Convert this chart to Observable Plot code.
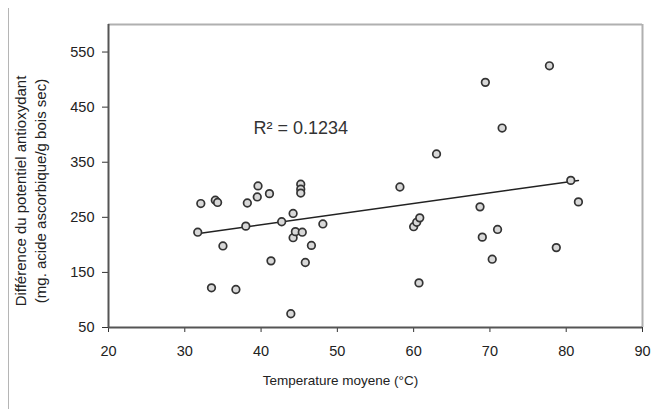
<!DOCTYPE html>
<html>
<head>
<meta charset="utf-8">
<script src="https://cdn.jsdelivr.net/npm/d3@7"></script>
<script src="https://cdn.jsdelivr.net/npm/@observablehq/plot@0.6"></script>
<style>
  body { margin: 0; background: #fff; }
  #wrap { position: relative; width: 670px; height: 409px; overflow: hidden; }
  #edge { position: absolute; left: 8px; top: 8px; bottom: 0; border-left: 1px solid #b5b5b5; }
</style>
</head>
<body>
<div id="wrap"><div id="edge"></div></div>
<script>
// Mean temperature (°C)
const temperature = [31.7, 32.1, 33.5, 34.0, 34.3, 35.0, 36.7, 38.0, 38.2, 39.5,
  39.6, 41.1, 41.3, 42.7, 43.9, 44.2, 44.2, 44.5, 45.4, 45.2,
  45.2, 45.2, 45.8, 46.6, 48.1, 58.2, 60.0, 60.4, 60.8, 60.7,
  63.0, 68.7, 69.0, 69.4, 70.3, 71.0, 71.6, 77.8, 78.7, 80.6, 81.6];
// Difference in antioxidant potential (mg ascorbic acid / g dry wood)
const antioxydant = [223, 275, 122, 281, 277, 198, 119, 234, 276, 287,
  307, 293, 171, 242, 75, 257, 213, 224, 223, 310,
  301, 294, 168, 199, 238, 305, 233, 241, 249, 131,
  365, 269, 214, 495, 174, 228, 412, 525, 195, 317, 278];
// Trend line as drawn in the chart (end points)
const trendX = [31.6, 81.6];
const trendY = [220, 317];
const xTicks = [20, 30, 40, 50, 60, 70, 80, 90];
const yTicks = [50, 150, 250, 350, 450, 550];
const r2Label = ["R² = 0.1234"];
const xLabel = ["Temperature moyene (°C)"];
const yLabel = ["Différence du potentiel antioxydant\n(mg. acide ascorbique/g bois sec)"];

const points = temperature.map((t, i) => ({t, v: antioxydant[i]}));
const trend = trendX.map((t, i) => ({t, v: trendY[i]}));

const chart = Plot.plot({
  width: 670,
  height: 409,
  marginLeft: 108,
  marginRight: 28,
  marginTop: 24,
  marginBottom: 82,
  style: {fontFamily: "'Liberation Sans', Arial, sans-serif", fontSize: "14px", color: "#222", background: "transparent"},
  x: {domain: [20, 90]},
  y: {domain: [50, 600]},
  marks: [
    Plot.ruleY([600], {stroke: "#b0b0b0", strokeWidth: 2}),
    Plot.ruleX([90], {stroke: "#b0b0b0", strokeWidth: 2}),
    Plot.axisX({ticks: xTicks, tickSize: 5, tickPadding: 13, stroke: "#333", fontSize: 14.5, label: null}),
    Plot.axisY({ticks: yTicks, tickSize: 6, tickPadding: 8, stroke: "#333", fontSize: 14.5, label: null}),
    Plot.ruleX([20], {stroke: "#555", strokeWidth: 2}),
    Plot.ruleY([50], {stroke: "#555", strokeWidth: 2}),
    Plot.line(trend, {x: "t", y: "v", stroke: "#222", strokeWidth: 1.5}),
    Plot.dot(points, {x: "t", y: "v", r: 3.8, stroke: "#333", strokeWidth: 1.7, fill: "#d8d8d8"}),
    Plot.text(r2Label, {x: 39.0, y: 412, text: d => d, textAnchor: "start", fontSize: 18, fill: "#333"}),
    Plot.text(xLabel, {frameAnchor: "bottom", text: d => d, dx: -35, dy: 57, fontSize: 13.5, fill: "#222"}),
    Plot.text(yLabel, {frameAnchor: "left", text: d => d, rotate: -90, lineAnchor: "top", textAnchor: "middle",
      dx: -96, dy: 15, fontSize: 15, lineHeight: 1.3, fill: "#222"})
  ]
});
document.getElementById("wrap").appendChild(chart);
</script>
</body>
</html>
